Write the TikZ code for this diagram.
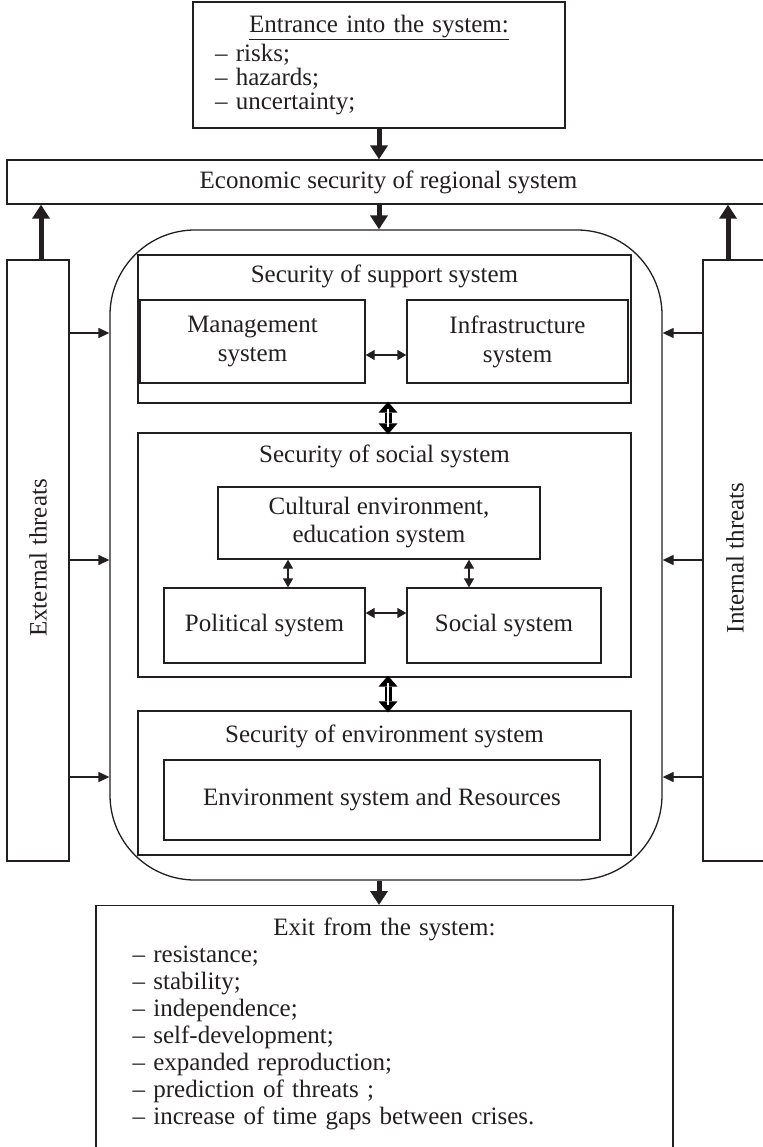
\documentclass[tikz,border=0pt]{standalone}
\usepackage{fontspec}
\setmainfont{Liberation Serif}
\usetikzlibrary{arrows.meta,positioning,calc}
\definecolor{ink}{RGB}{35,31,32}
\newcommand{\bodyfont}{\fontsize{25}{29}\selectfont}
\tikzset{
  box/.style={draw=ink,line width=1.3pt,inner sep=0pt,align=center,font=\bodyfont,text=ink},
  ttl/.style={inner sep=0pt,font=\bodyfont,text=ink},
  arr/.style={-{Triangle[length=11pt,width=10pt]},line width=1.3pt,ink},
  darr/.style={{Triangle[length=9pt,width=10pt]}-{Triangle[length=9pt,width=10pt]},line width=1.3pt,ink},
  fat/.style={-{Triangle[length=14pt,width=17pt]},line width=5pt,ink},
  hol/.style={{Triangle[length=11pt,width=19pt,line width=0pt]}-{Triangle[length=11pt,width=19pt,line width=0pt]},
    line width=7pt,black,shorten <=-2pt,shorten >=-2pt},
  holcore/.style={white,line width=2.2pt,shorten <=5pt,shorten >=5pt},
}

\begin{document}
\begin{tikzpicture}[x=1pt,y=-1pt]
  \useasboundingbox (0,0) rectangle (762,1147);
  % entrance and the outer frame
  \node[box,text width=328pt,minimum width=372pt,minimum height=126pt,align=left,
    font=\fontsize{25}{24}\selectfont] (entr) at (379,65)
   {\makebox[328pt]{\underline{Entrance into the system:}}\\[3pt]
    – risks;\\ – hazards;\\ – uncertainty;};
  \node[box,minimum width=763pt,minimum height=44pt] (eco) at (388.5,182)
   {Economic security of regional system};
  \node[box,rounded corners=85pt,minimum width=552pt,minimum height=650pt] (big) at (386,555) {};
  % support system
  \node[box,minimum width=493pt,minimum height=148pt] (sup) at (384.5,329) {};
  \node[ttl,below=10pt of sup.north] (supT) {Security of support system};
  \node[box,minimum width=225pt,minimum height=83pt] (mgmt) at (252.5,341.5)
   {Management\\system};
  \node[box,minimum width=221pt,minimum height=83pt] (infra) at (517.5,341.5)
   {Infrastructure\\system};
  % social system
  \node[box,minimum width=493pt,minimum height=244pt] (soc) at (384.5,555) {};
  \node[ttl,below=12pt of soc.north] (socT) {Security of social system};
  \node[box,minimum width=322pt,minimum height=72pt,font=\fontsize{25}{28}\selectfont] (cult) at (379,523)
   {Cultural environment,\\education system};
  \node[box,minimum width=201pt,minimum height=75pt] (pol) at (264.5,625.5) {Political system};
  \node[box,minimum width=194pt,minimum height=75pt] (socs) at (504,625.5) {Social system};
  % environment system
  \node[box,minimum width=493pt,minimum height=144pt] (env) at (384.5,783) {};
  \node[ttl,below=14pt of env.north] (envT) {Security of environment system};
  \node[box,minimum width=436pt,minimum height=80pt] (res) at (382,800)
   {Environment system and Resources};
  % threats
  \node[box,minimum width=62pt,minimum height=601pt] (ext) at (38,560.5) {};
  \node[ttl,rotate=90] (extT) at (38,558) {External threats};
  \node[box,minimum width=67pt,minimum height=601pt] (int) at (736.5,560.5) {};
  \node[ttl,rotate=90] (intT) at (735,558) {Internal threats};
  % exit
  \node[box,minimum width=577pt,minimum height=260pt,anchor=north] (exit) at (384.5,905) {};
  \node[ttl,text width=504pt,align=left,font=\fontsize{25}{27}\selectfont,
    below=13pt of exit.north] (exitT)
   {\makebox[504pt]{Exit from the system:}\\
    – resistance;\\ – stability;\\ – independence;\\ – self-development;\\
    – expanded reproduction;\\ – prediction of threats ;\\
    – increase of time gaps between crises.};

  \draw[fat] (entr.south) -- (entr.south |- eco.north);
  \draw[fat] (entr.south |- eco.south) -- (entr.south |- big.north);
  \draw[fat] (entr.south |- big.south) -- (entr.south |- exit.north);
  \draw[fat] ([xshift=3pt]ext.north) -- ([xshift=3pt]ext.north |- eco.south);
  \draw[fat] ([xshift=-8.5pt]int.north) -- ([xshift=-8.5pt]int.north |- eco.south);
  \foreach \yy in {333,560,777}{
    \draw[arr] (ext.east |- 0,\yy) -- (big.west |- 0,\yy);
    \draw[arr] (int.west |- 0,\yy) -- (big.east |- 0,\yy);
  }
  \draw[darr] (mgmt.east |- 0,355) -- (infra.west |- 0,355);
  \draw[darr] (288,0 |- cult.south) -- (288,0 |- pol.north);
  \draw[darr] (469,0 |- cult.south) -- (469,0 |- socs.north);
  \draw[darr] (pol.east |- 0,613) -- (socs.west |- 0,613);
  \foreach \a/\b in {sup/soc,soc/env}{
    \draw[hol] (388,0 |- \a.south) -- (388,0 |- \b.north);
    \draw[holcore] (388,0 |- \a.south) -- (388,0 |- \b.north);
  }
\end{tikzpicture}
\end{document}
